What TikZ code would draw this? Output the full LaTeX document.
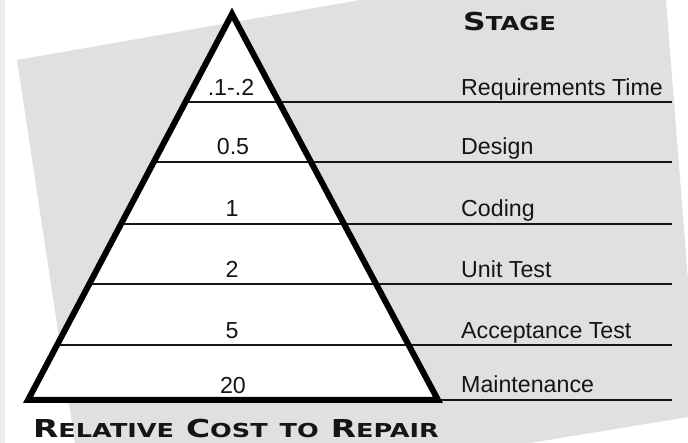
\documentclass[tikz,border=0pt]{standalone}
\usepackage{fontspec}
\usepackage{graphicx}
\setmainfont{Liberation Sans}
\newfontfamily\capsfont{DejaVu Sans}
\definecolor{bggray}{HTML}{E0E0E0}
\definecolor{stripgray}{HTML}{EDEDED}
\definecolor{ink}{HTML}{151515}
\newcommand{\bigc}[1]{{\fontsize{24.7}{26}\selectfont #1}}
\newcommand{\smc}[1]{{\fontsize{19.2}{20}\selectfont #1}}
\newcommand{\capgap}{\hspace{9pt}}
\begin{document}
\begin{tikzpicture}[x=1pt,y=-1pt,
  stagelabel/.style={anchor=base west,inner sep=0pt,text=ink,font=\fontsize{23.2}{25}\selectfont},
  costlabel/.style={anchor=base,inner sep=0pt,text=ink,font=\fontsize{23.2}{25}\selectfont},
  heading/.style={anchor=base west,inner sep=0pt,text=ink,font=\capsfont\bfseries},
  rule/.style={line width=1.6pt,draw=ink},
  pyramid/.style={line width=6pt,draw=black,line join=miter}]
\useasboundingbox (0,0) rectangle (688,443);
% background
\fill[stripgray] (0,0) rectangle (5,443);
\fill[bggray] (17,60) -- (360,0) -- (666,0) -- (688,280) -- (688,417) -- (530,443) -- (75,443) -- cycle;
% pyramid corners
\coordinate (A) at (232,14);
\coordinate (BL) at (28,400);
\coordinate (BR) at (438,400);
\fill[white] (A) -- (BL) -- (BR) -- cycle;
% rule ends
\coordinate (l1) at (184.7,102); \coordinate (r1) at (672,102);
\coordinate (l2) at (153.2,162); \coordinate (r2) at (672,162);
\coordinate (l3) at (120.6,224); \coordinate (r3) at (672,224);
\coordinate (l4) at (89,284);    \coordinate (r4) at (672,284);
\coordinate (l5) at (57,345);    \coordinate (r5) at (672,345);
\coordinate (r6) at (672,400);
\draw[rule] (l1) -- (r1);
\draw[rule] (l2) -- (r2);
\draw[rule] (l3) -- (r3);
\draw[rule] (l4) -- (r4);
\draw[rule] (l5) -- (r5);
\draw[rule] (BR) -- (r6);
\draw[pyramid] (A) -- (BL) -- (BR) -- cycle;
% costs
\node[costlabel] (c1) at (231,96) {.1-.2};
\node[costlabel] (c2) at (233,155) {0.5};
\node[costlabel] (c3) at (232,217) {1};
\node[costlabel] (c4) at (232,278) {2};
\node[costlabel] (c5) at (232,339) {5};
\node[costlabel] (c6) at (233,393) {20};
% stages
\node[stagelabel] (s1) at (461,96) {Requirements Time};
\node[stagelabel] (s2) at (461,155) {Design};
\node[stagelabel] (s3) at (461,217) {Coding};
\node[stagelabel] (s4) at (461,278) {Unit Test};
\node[stagelabel] (s5) at (461,339) {Acceptance Test};
\node[stagelabel] (s6) at (461,392) {Maintenance};
% headings
\node[heading] (stage) at (463,31) {\scalebox{1.27}[1]{\bigc{S}\smc{TAGE}}};
\node[heading] (cost) at (33,437.5) {\scalebox{1.33}[1]{\bigc{R}\smc{ELATIVE}\capgap\bigc{C}\smc{OST}\capgap\smc{TO}\capgap\bigc{R}\smc{EPAIR}}};
\end{tikzpicture}
\end{document}
